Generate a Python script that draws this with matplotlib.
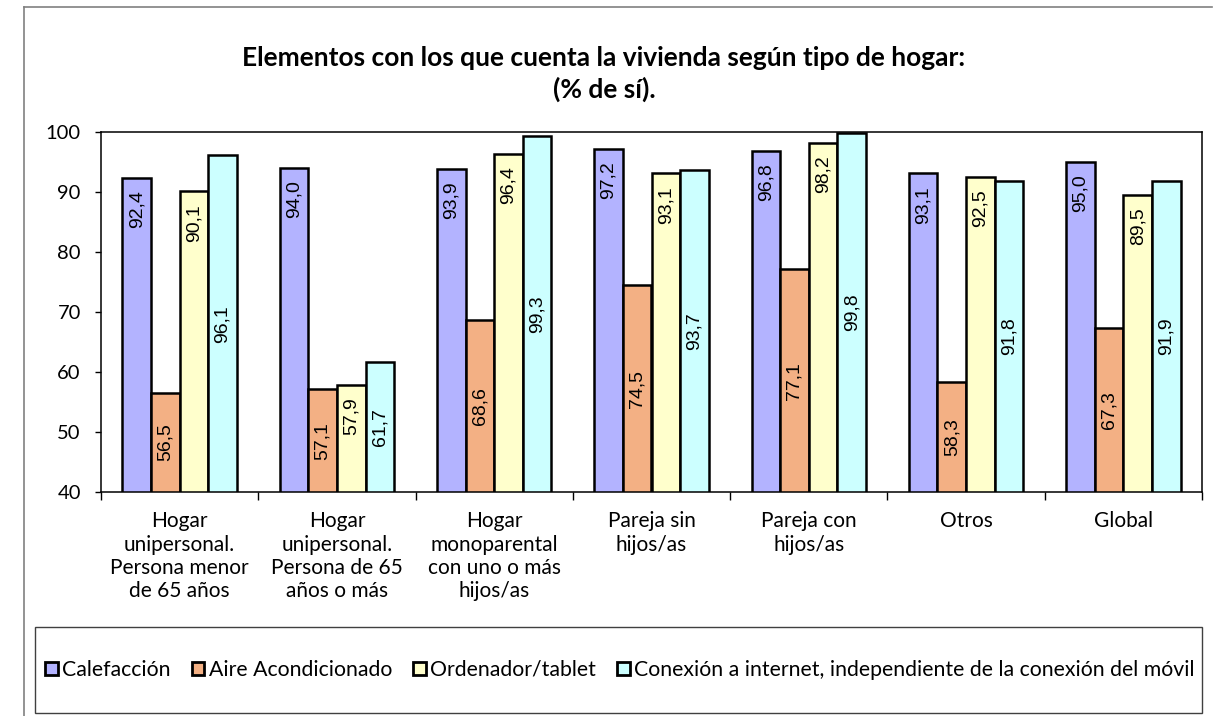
import matplotlib
matplotlib.use("Agg")
import matplotlib.pyplot as plt
from matplotlib.patches import Rectangle
from matplotlib.lines import Line2D
import numpy as np

plt.rcParams['font.family'] = ['Lato', 'DejaVu Sans']

categorias = ["Hogar\nunipersonal.\nPersona menor\nde 65 años",
              "Hogar\nunipersonal.\nPersona de 65\naños o más",
              "Hogar\nmonoparental\ncon uno o más\nhijos/as",
              "Pareja sin\nhijos/as",
              "Pareja con\nhijos/as",
              "Otros",
              "Global"]

series = ["Calefacción", "Aire Acondicionado", "Ordenador/tablet",
          "Conexión a internet, independiente de la conexión del móvil"]

calefaccion = [92.4, 94.0, 93.9, 97.2, 96.8, 93.1, 95.0]
aire = [56.5, 57.1, 68.6, 74.5, 77.1, 58.3, 67.3]
ordenador = [90.1, 57.9, 96.4, 93.1, 98.2, 92.5, 89.5]
conexion = [96.1, 61.7, 99.3, 93.7, 99.8, 91.8, 91.9]

colores = ["#b3b3ff", "#f3b084", "#ffffcc", "#ccffff"]
# where the value label sits: 'top' = just inside the bar end, 'mid' = middle of visible part
posicion = ["top", "mid", "top", "mid"]

fig = plt.figure(figsize=(12.16, 7.16), dpi=100)
ax = fig.add_axes([101/1216, 1-492/716, (1202-101)/1216, (492-132)/716])

x = np.arange(len(categorias))
w = 0.182
ymin, ymax = 40, 100
for i, vals in enumerate([calefaccion, aire, ordenador, conexion]):
    xs = x + (i - 1.5) * w
    ax.bar(xs, vals, width=w, color=colores[i], edgecolor="black",
           linewidth=1.8, label=series[i], zorder=2)
    for xi, v in zip(xs, vals):
        txt = f"{v:.1f}".replace(".", ",")
        if posicion[i] == "top":
            ax.annotate(txt, (xi, v), xytext=(0, -9), textcoords="offset points",
                        rotation=90, ha="center", va="top", fontsize=14,
                        family="Liberation Sans", zorder=3)
        else:
            ax.text(xi, (ymin + v) / 2, txt, rotation=90, ha="center", va="center",
                    fontsize=14, family="Liberation Sans", zorder=3)

ax.set_xlim(-0.5, len(categorias) - 0.5)
ax.set_ylim(ymin, ymax)
ax.set_yticks(np.arange(40, 101, 10))
ax.tick_params(axis="y", direction="out", length=4.5, width=1, pad=10, labelsize=14.5)

# boundaries as major ticks, labels on minor ticks at group centres
ax.set_xticks(np.arange(-0.5, len(categorias), 1))
ax.set_xticklabels([])
ax.set_xticks(x, minor=True)
ax.set_xticklabels(categorias, minor=True, fontsize=15, linespacing=1.2)
ax.tick_params(axis="x", which="major", direction="out", length=6, width=1)
ax.tick_params(axis="x", which="minor", length=0, pad=14)

for s in ax.spines.values():
    s.set_linewidth(1.1)
    s.set_color("black")

fig.text(604/1216, 1-58/716, "Elementos con los que cuenta la vivienda según tipo de hogar:",
         ha="center", va="center", fontsize=19, fontweight="bold")
fig.text(604/1216, 1-89/716, "(% de sí).",
         ha="center", va="center", fontsize=19, fontweight="bold")

# outer chart frame (only left and top visible)
fig.add_artist(Line2D([24/1216, 24/1216], [0, 1-7/716], transform=fig.transFigure,
                      color="#808080", lw=1.2))
fig.add_artist(Line2D([24/1216, 1212/1216], [1-7/716, 1-7/716], transform=fig.transFigure,
                      color="#808080", lw=1.2))

# legend box
fig.add_artist(Rectangle((35/1216, 1-713/716), (1202-35)/1216, (713-627)/716,
                         transform=fig.transFigure, fill=False, edgecolor="#404040", lw=1))
handles, labels = ax.get_legend_handles_labels()
leg = fig.legend(handles, labels, loc="center", bbox_to_anchor=(620/1216, 1-670/716),
                 ncol=4, frameon=False, fontsize=15.3, handlelength=0.6, handleheight=0.6,
                 handletextpad=0.2, columnspacing=1.0, borderpad=0)
for h in leg.legend_handles:
    h.set_linewidth(2)

fig.savefig("out.png", dpi=100)
